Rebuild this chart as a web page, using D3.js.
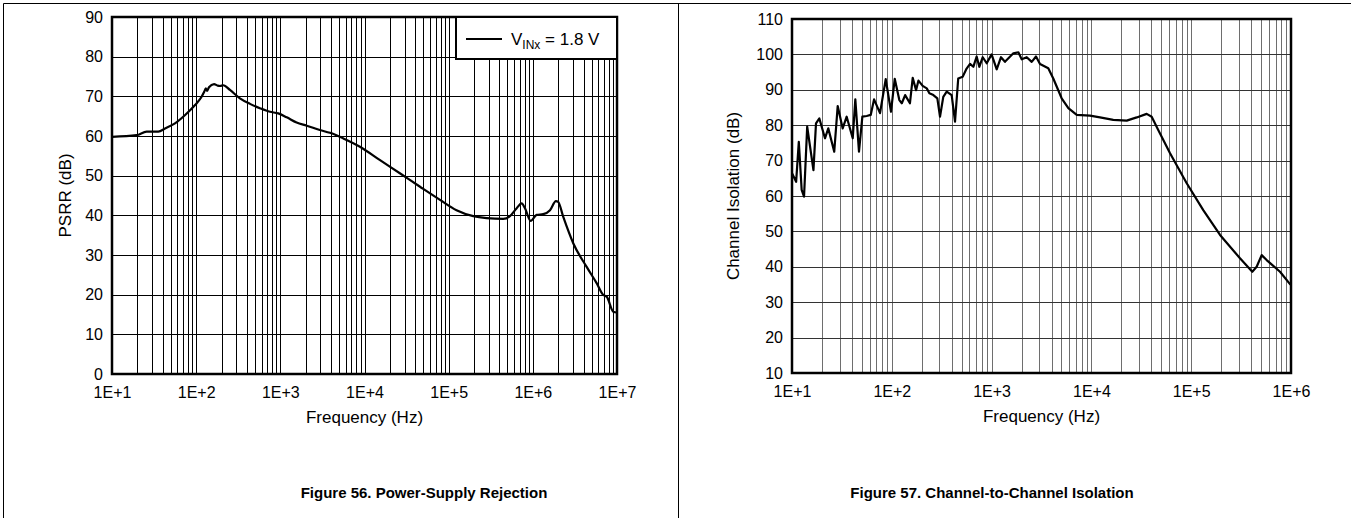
<!DOCTYPE html>
<html>
<head>
<meta charset="utf-8">
<script src="https://cdn.jsdelivr.net/npm/d3@7"></script>
<style>
  body { margin: 0; background: #fff; }
  svg { display: block; font-family: "Liberation Sans", Arial, sans-serif; }
</style>
</head>
<body>
<svg id="drawing_region"></svg>
<script>
// Figure 56: PSRR vs frequency
const psrrFreq = [10, 19.6, 25.8, 35.5, 42.7, 56, 74, 97, 116, 125, 130, 135, 142, 163, 180, 192, 210, 252, 331, 436,
    573, 753, 946, 1190, 1560, 2060, 2950, 3890, 5600, 8830, 15300, 26300, 45700, 78900, 124000, 196000, 282000,
    445000, 535000, 643000, 737000, 807000, 942000, 1110000, 1330000, 1600000, 1880000, 2000000, 2300000,
    3030000, 4360000, 5730000, 6870000, 7540000, 9040000, 10000000];
const psrrDb = [59.8, 60.2, 61.1, 61.1, 61.9, 63.2, 65.3, 67.8, 69.9, 71.2, 72.0, 71.4, 72.3, 73.1, 72.7, 72.6, 72.8, 71.6, 69.5, 68.1,
    67.0, 66.1, 65.7, 64.7, 63.4, 62.6, 61.5, 60.8, 59.4, 57.3, 53.9, 50.6, 47.2, 43.9, 41.3, 39.8, 39.3,
    39.1, 39.8, 41.8, 43.0, 41.8, 38.6, 40.1, 40.3, 41.3, 43.6, 43.4, 39.6,
    32.9, 27.0, 22.9, 19.9, 19.5, 15.7, 15.5];

// Figure 57: channel isolation vs frequency
const isoFreq = [10, 11.0, 11.7, 12.5, 13.2, 14.2, 16.4, 17.4, 18.8, 21.4, 23.1, 26.5, 28.7, 32.2, 35.3, 40.6, 43.1, 46.9,
    50.7, 56.0, 61.5, 66.4, 76.2, 86.9, 98.2, 107, 119, 126, 136, 152, 162, 175, 185, 204, 224, 238, 261, 286, 304,
    328, 355, 398, 430, 463, 513, 562, 608, 656, 708, 753, 815, 893, 1000, 1125, 1242, 1361, 1652, 1854, 2004,
    2249, 2523, 2786, 3055, 3698, 4150, 5035, 5875, 7129, 9683, 12190, 16560, 22590, 28440, 35810, 40180, 46880,
    61380, 90160, 132100, 194500, 308300, 409300, 452900, 508200, 570200, 776200, 977200, 1000000];
const isoDb = [66.4, 64.0, 75.3, 61.7, 59.8, 79.6, 67.3, 80.5, 81.9, 76.3, 79.1, 72.5, 85.4, 79.1, 82.4, 76.3, 87.3, 72.5,
    82.4, 82.6, 82.9, 87.3, 83.4, 93.0, 83.8, 93.1, 87.1, 86.2, 88.5, 86.2, 93.4, 89.9, 92.6, 91.1, 90.4, 89.0, 88.5, 87.6, 82.4,
    88.0, 89.5, 88.5, 81.0, 93.2, 93.7, 96.0, 97.3, 96.5, 99.4, 96.5, 99.2, 97.5, 100.0, 95.8, 99.2, 97.9, 100.3, 100.6, 98.6,
    99.2, 97.9, 99.4, 97.3, 96.1, 93.2, 87.6, 84.8, 82.9, 82.7, 82.2, 81.5, 81.3, 82.2, 83.2, 82.4, 78.6,
    72.1, 63.6, 56.0, 49.0, 42.4, 38.6, 40.0, 43.3, 41.9, 38.6, 35.1, 35.0];

const psrrYTicks = [0, 10, 20, 30, 40, 50, 60, 70, 80, 90];
const isoYTicks = [10, 20, 30, 40, 50, 60, 70, 80, 90, 100, 110];
const psrrXTicks = [1e1, 1e2, 1e3, 1e4, 1e5, 1e6, 1e7];
const isoXTicks = [1e1, 1e2, 1e3, 1e4, 1e5, 1e6];

const svg = d3.select('#drawing_region')
    .attr('width', 1351)
    .attr('height', 518);

// page frame
svg.append('path')
    .attr('d', 'M3.5,518 V3.5 H1351 M678.5,3.5 V518')
    .attr('fill', 'none')
    .attr('stroke', '#000')
    .attr('stroke-width', 1);

class LogChart {

    constructor( config, freq, vals ) {
        this.config = config;
        this.data = freq.map( (f, i) => ({ x: f, y: vals[i] }) );
        this.init();
    }

    init() {
        let self = this;
        const c = self.config;

        self.chart = svg.append('g')
            .attr('transform', `translate(${c.left}, ${c.top})`);

        self.xscale = d3.scaleLog()
            .domain( c.xdomain )
            .range( [0, c.width] );

        self.yscale = d3.scaleLinear()
            .domain( c.ydomain )
            .range( [c.height, 0] );
    }

    render() {
        let self = this;
        const c = self.config;

        // vertical grid (1..9 per decade)
        self.chart.append('g')
            .selectAll('line')
            .data( self.xscale.ticks() )
            .join('line')
            .attr('x1', d => Math.round(self.xscale(d)) + 0.5)
            .attr('x2', d => Math.round(self.xscale(d)) + 0.5)
            .attr('y1', 0)
            .attr('y2', c.height)
            .attr('stroke', c.vgrid)
            .attr('stroke-width', 1);

        // horizontal grid
        self.chart.append('g')
            .selectAll('line')
            .data( c.yticks )
            .join('line')
            .attr('x1', 0)
            .attr('x2', c.width)
            .attr('y1', d => Math.round(self.yscale(d)) + 0.5)
            .attr('y2', d => Math.round(self.yscale(d)) + 0.5)
            .attr('stroke', c.hgrid)
            .attr('stroke-width', 1);

        const line = d3.line()
            .x( d => self.xscale(d.x) )
            .y( d => self.yscale(d.y) )
            .curve( c.curve );

        self.chart.append('path')
            .datum( self.data )
            .attr('d', line)
            .attr('fill', 'none')
            .attr('stroke', '#000')
            .attr('stroke-width', 2.2)
            .attr('stroke-linejoin', 'round');

        self.chart.append('rect')
            .attr('width', c.width)
            .attr('height', c.height)
            .attr('fill', 'none')
            .attr('stroke', '#000')
            .attr('stroke-width', 2.5);

        // axes, labels only
        const xaxis = d3.axisBottom( self.xscale )
            .tickValues( c.xticks )
            .tickSize(0)
            .tickPadding(13)
            .tickFormat( d => '1E+' + Math.round(Math.log10(d)) );
        self.chart.append('g')
            .attr('transform', `translate(0, ${c.height})`)
            .call( xaxis )
            .call( g => g.select('.domain').remove() )
            .selectAll('text')
            .attr('fill', '#000')
            .style('font-size', '16px')
            .style('font-family', '"Liberation Sans", Arial, sans-serif');

        const yaxis = d3.axisLeft( self.yscale )
            .tickValues( c.yticks )
            .tickSize(0)
            .tickPadding(9);
        self.chart.append('g')
            .call( yaxis )
            .call( g => g.select('.domain').remove() )
            .selectAll('text')
            .attr('fill', '#000')
            .style('font-size', '16px')
            .style('font-family', '"Liberation Sans", Arial, sans-serif');

        self.chart.append('text')
            .attr('x', c.width / 2)
            .attr('y', c.height + 49)
            .attr('text-anchor', 'middle')
            .style('font-size', '17px')
            .text('Frequency (Hz)');

        self.chart.append('text')
            .attr('transform', `translate(${c.ylabelX}, ${c.height / 2}) rotate(-90)`)
            .attr('text-anchor', 'middle')
            .attr('dy', '0.35em')
            .style('font-size', '17px')
            .text( c.ylabel );

        svg.append('text')
            .attr('x', c.captionX)
            .attr('y', 498)
            .attr('text-anchor', 'middle')
            .style('font-size', '15px')
            .style('font-weight', 'bold')
            .text( c.caption );
    }
}

const psrrChart = new LogChart({
    left: 112, top: 17, width: 505, height: 357,
    xdomain: [1e1, 1e7], ydomain: [0, 90],
    xticks: psrrXTicks, yticks: psrrYTicks,
    vgrid: '#000', hgrid: '#000',
    curve: d3.curveMonotoneX,
    ylabel: 'PSRR (dB)', ylabelX: -47,
    caption: 'Figure 56. Power-Supply Rejection', captionX: 424
}, psrrFreq, psrrDb);
psrrChart.render();

// legend
const legend = psrrChart.chart.append('g')
    .attr('transform', `translate(${psrrChart.config.width - 161}, 0)`);
legend.append('rect')
    .attr('width', 161)
    .attr('height', 42)
    .attr('fill', '#fff')
    .attr('stroke', '#000')
    .attr('stroke-width', 2);
legend.append('line')
    .attr('x1', 10).attr('x2', 46)
    .attr('y1', 22).attr('y2', 22)
    .attr('stroke', '#000')
    .attr('stroke-width', 2.2);
const ltext = legend.append('text')
    .attr('x', 55)
    .attr('y', 28)
    .style('font-size', '17px');
ltext.append('tspan').text('V');
ltext.append('tspan').attr('dy', 4).style('font-size', '12px').text('INx');
ltext.append('tspan').attr('dy', -4).text(' = 1.8 V');

const isoChart = new LogChart({
    left: 792, top: 19, width: 499, height: 354,
    xdomain: [1e1, 1e6], ydomain: [10, 110],
    xticks: isoXTicks, yticks: isoYTicks,
    vgrid: '#6e6e6e', hgrid: '#333',
    curve: d3.curveLinear,
    ylabel: 'Channel Isolation (dB)', ylabelX: -59,
    caption: 'Figure 57. Channel-to-Channel Isolation', captionX: 992
}, isoFreq, isoDb);
isoChart.render();
</script>
</body>
</html>
